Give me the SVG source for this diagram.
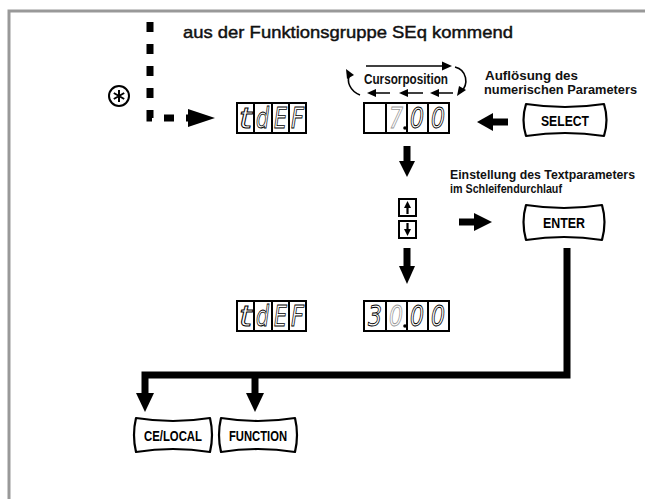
<svg xmlns="http://www.w3.org/2000/svg" width="645" height="499" viewBox="0 0 645 499">
<style>
.lbl{font-family:"Liberation Sans Narrow","Liberation Sans",Arial,sans-serif;font-weight:bold;fill:#111}
.ttl{font-family:"Liberation Sans Narrow","Liberation Sans",Arial,sans-serif;fill:#111;stroke:#111;stroke-width:0.45}
.btn{fill:#fff;stroke:#000;stroke-width:2.2;stroke-linejoin:round}
.btxt{font-family:"Liberation Sans Narrow","Liberation Sans",Arial,sans-serif;font-weight:bold;font-size:15px;fill:#000;text-anchor:middle}
.disp{fill:#fff;stroke:#000;stroke-width:2}
.seg{font-family:"DejaVu Sans",sans-serif;font-style:italic;font-size:28px;fill:none;stroke:#000;stroke-width:0.9}
.segg{font-family:"DejaVu Sans",sans-serif;font-style:italic;font-size:28px;fill:none;stroke:#999;stroke-width:0.9}
.thick{fill:none;stroke:#000;stroke-width:7}
.thin{fill:none;stroke:#000;stroke-width:1.6}
</style>
<g id="frame" fill="none" stroke="#999" stroke-width="3">
<path d="M9,499 V11 H645"/>
</g>
<g id="title"><text class="ttl" x="183" y="38" font-size="17" textLength="330" lengthAdjust="spacingAndGlyphs">aus der Funktionsgruppe SEq kommend</text></g>
<g id="asterisk" fill="none" stroke="#000">
<circle cx="119" cy="96" r="10" stroke-width="2"/>
<path d="M119,90 V102 M113.8,93 L124.2,99 M113.8,99 L124.2,93" stroke-width="2"/>
</g>
<g id="connectors">
<path d="M150,22 V118 H190" fill="none" stroke="#000" stroke-width="7" stroke-dasharray="10 12"/>
<polygon points="188,109 215,118 188,127" fill="#000"/>
<path d="M492,122 H508" class="thick"/>
<polygon points="477,122 493,113 493,131" fill="#000"/>
<path d="M407,146 V164" class="thick"/>
<polygon points="399,161 415,161 407,177" fill="#000"/>
<path d="M407,248 V268" class="thick"/>
<polygon points="399,266 415,266 407,284" fill="#000"/>
<path d="M459,222 H476" class="thick"/>
<polygon points="474,213 492,222 474,231" fill="#000"/>
<path d="M567,248 V375 H145 V396" class="thick" stroke-linejoin="miter"/>
<path d="M255,375 V396" class="thick"/>
<polygon points="136,393 154,393 145,412" fill="#000"/>
<polygon points="246,393 264,393 255,412" fill="#000"/>
<path d="M366,66 H444" class="thin" stroke-width="2"/>
<polygon points="452,66 442,61.5 442,70.5" fill="#000"/>
<path d="M455,67 C467,70 469,84 461,92" class="thin"/>
<polygon points="457,96 459,86 466,90" fill="#000"/>
<path d="M360,95 C350,91 346,81 350,75" class="thin"/>
<polygon points="346,69 347,79 354,75" fill="#000"/>
<path d="M374,93 H390 M406,93 H423 M437,93 H453" class="thin" stroke-width="2"/>
<polygon points="367,93 376,89 376,97" fill="#000"/>
<polygon points="399,93 408,89 408,97" fill="#000"/>
<polygon points="430,93 439,89 439,97" fill="#000"/>
</g>
<g id="cursor-label"><text class="lbl" x="364" y="84" font-size="14" textLength="84" lengthAdjust="spacingAndGlyphs">Cursorposition</text></g>
<g id="aufloesung-label">
<text class="lbl" x="485" y="80" font-size="13.5" textLength="93" lengthAdjust="spacingAndGlyphs">Auflösung des</text>
<text class="lbl" x="484" y="94" font-size="13.5" textLength="153" lengthAdjust="spacingAndGlyphs">numerischen Parameters</text>
</g>
<g id="einstellung-label">
<text class="lbl" x="450" y="179" font-size="12.5" textLength="185" lengthAdjust="spacingAndGlyphs">Einstellung des Textparameters</text>
<text class="lbl" x="450" y="193" font-size="12.5" textLength="112" lengthAdjust="spacingAndGlyphs">im Schleifendurchlauf</text>
</g>
<g id="display-tdef-1">
<rect class="disp" x="237" y="103" width="69" height="30"/>
<path d="M254,103 V133 M272,103 V133 M289,103 V133" stroke="#000" stroke-width="2"/>
<text class="seg" x="239" y="128" textLength="13" lengthAdjust="spacingAndGlyphs">t</text>
<text class="seg" x="256" y="128" textLength="13" lengthAdjust="spacingAndGlyphs">d</text>
<text class="seg" x="274" y="128" textLength="13" lengthAdjust="spacingAndGlyphs">E</text>
<text class="seg" x="291" y="128" textLength="13" lengthAdjust="spacingAndGlyphs">F</text>
</g>
<g id="display-value-1">
<rect class="disp" x="364" y="103" width="85" height="30"/>
<path d="M386,103 V133 M407,103 V133 M428,103 V133" stroke="#000" stroke-width="2"/>
<text class="segg" x="389" y="128" textLength="14" lengthAdjust="spacingAndGlyphs">7</text>
<circle cx="405" cy="128" r="1.8" fill="#000"/>
<text class="seg" x="410" y="128" textLength="14" lengthAdjust="spacingAndGlyphs">0</text>
<text class="seg" x="431" y="128" textLength="14" lengthAdjust="spacingAndGlyphs">0</text>
</g>
<g id="select-button">
<path class="btn" d="M526,104 Q565,110 604,104 Q609,120 604,136 Q565,130 526,136 Q521,120 526,104 Z"/>
<text class="btxt" x="565" y="126" textLength="48" lengthAdjust="spacingAndGlyphs">SELECT</text>
</g>
<g id="updown-keys">
<rect x="399" y="199" width="17" height="17" fill="#fff" stroke="#000" stroke-width="2"/>
<path d="M407.5,214 V206" stroke="#000" stroke-width="2.2"/>
<polygon points="407.5,201 404,208 411,208" fill="#000"/>
<rect x="399" y="221" width="17" height="17" fill="#fff" stroke="#000" stroke-width="2"/>
<path d="M407.5,223 V231" stroke="#000" stroke-width="2.2"/>
<polygon points="407.5,236 404,229 411,229" fill="#000"/>
</g>
<g id="enter-button">
<path class="btn" d="M526,205 Q564,211 602,205 Q607,222 602,240 Q564,234 526,240 Q521,222 526,205 Z"/>
<text class="btxt" x="564" y="228" textLength="42" lengthAdjust="spacingAndGlyphs">ENTER</text>
</g>
<g id="display-tdef-2">
<rect class="disp" x="237" y="301" width="69" height="30"/>
<path d="M254,301 V331 M272,301 V331 M289,301 V331" stroke="#000" stroke-width="2"/>
<text class="seg" x="239" y="326" textLength="13" lengthAdjust="spacingAndGlyphs">t</text>
<text class="seg" x="256" y="326" textLength="13" lengthAdjust="spacingAndGlyphs">d</text>
<text class="seg" x="274" y="326" textLength="13" lengthAdjust="spacingAndGlyphs">E</text>
<text class="seg" x="291" y="326" textLength="13" lengthAdjust="spacingAndGlyphs">F</text>
</g>
<g id="display-value-2">
<rect class="disp" x="364" y="301" width="85" height="30"/>
<path d="M386,301 V331 M407,301 V331 M428,301 V331" stroke="#000" stroke-width="2"/>
<text class="seg" x="368" y="326" textLength="14" lengthAdjust="spacingAndGlyphs">3</text>
<text class="segg" x="389" y="326" textLength="14" lengthAdjust="spacingAndGlyphs">0</text>
<circle cx="405" cy="326" r="1.8" fill="#000"/>
<text class="seg" x="410" y="326" textLength="14" lengthAdjust="spacingAndGlyphs">0</text>
<text class="seg" x="431" y="326" textLength="14" lengthAdjust="spacingAndGlyphs">0</text>
</g>
<g id="celocal-button">
<path class="btn" d="M136,418 Q173,424 210,418 Q214,435 210,452 Q173,446 136,452 Q132,435 136,418 Z"/>
<text class="btxt" x="173" y="441" textLength="58" lengthAdjust="spacingAndGlyphs">CE/LOCAL</text>
</g>
<g id="function-button">
<path class="btn" d="M221,418 Q258,424 295,418 Q299,435 295,452 Q258,446 221,452 Q217,435 221,418 Z"/>
<text class="btxt" x="258" y="441" textLength="58" lengthAdjust="spacingAndGlyphs">FUNCTION</text>
</g>
</svg>
